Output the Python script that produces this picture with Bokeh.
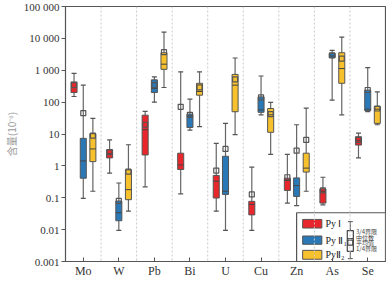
from bokeh.plotting import figure
from bokeh.models import FixedTicker, Span, ColumnDataSource, Range1d
from bokeh.core.properties import value
from bokeh.embed import file_html
from bokeh.resources import INLINE

categories = ["Mo", "W", "Pb", "Bi", "U", "Cu", "Zn", "As", "Se"]
series_names = ["Py Ⅰ", "Py Ⅱ₁", "PyⅡ₂"]
series_colors = ["#e8262b", "#2a78b6", "#f6c12c"]

# Py I
py1_low  = [150, 0.59, 0.22, 0.133, 0.038, 0.0095, 0.068, 0.060, 1.78]
py1_q1   = [200, 1.78, 2.2, 0.77, 0.098, 0.029, 0.17, 0.068, 4.5]
py1_med  = [288, 2.4, 13.6, 1.07, 0.33, 0.062, 0.35, 0.16, 6.2]
py1_q3   = [430, 3.2, 39, 2.5, 0.50, 0.077, 0.41, 0.19, 8.2]
py1_high = [800, 6.5, 51, 890, 5.1, 0.91, 2.3, 0.44, 10.7]
py1_mean = [340, 2.7, 19.5, 71, 0.71, 0.127, 0.44, 0.17, 6.5]

# Py II1
py21_low  = [0.095, 0.0095, 100, 13.3, 0.0095, 40, 0.057, 115, 50]
py21_q1   = [0.41, 0.019, 200, 16, 0.127, 48, 0.11, 2500, 54]
py21_med  = [1.43, 0.034, 270, 37, 0.16, 57, 0.24, 2800, 60]
py21_q3   = [7.3, 0.079, 500, 42, 2.0, 146, 0.42, 3400, 237]
py21_high = [340, 0.29, 620, 124, 21.6, 660, 19.5, 4200, 1210]
py21_mean = [45, 0.08, 340, 40, 3.4, 140, 3.0, 2940, 240]

# Py II2
py22_low  = [0.16, 0.038, 288, 17, 9.5, 2.3, 0.16, 40, 19.5]
py22_q1   = [1.36, 0.087, 1070, 165, 50, 11.3, 0.64, 390, 21.5]
py22_med  = [3.4, 0.18, 1550, 215, 340, 40, 0.85, 1130, 60]
py22_q3   = [10.2, 0.75, 3550, 390, 740, 63, 2.5, 3550, 73]
py22_high = [31, 4.6, 15800, 890, 2420, 98, 65, 11000, 210]
py22_mean = [8.9, 0.66, 3700, 290, 520, 42, 6.5, 2300, 63]

y_ticks = [0.001, 0.01, 0.1, 1, 10, 100, 1000, 10000, 100000]
y_tick_labels = ["0.001", "0.01", "0.1", "1", "10", "100", "1 000", "10 000", "100 000"]

series = [
    (py1_low, py1_q1, py1_med, py1_q3, py1_high, py1_mean),
    (py21_low, py21_q1, py21_med, py21_q3, py21_high, py21_mean),
    (py22_low, py22_q1, py22_med, py22_q3, py22_high, py22_mean),
]
offsets = [-0.26, 0.0, 0.27]
box_w = 0.17

p = figure(width=386, height=280, y_axis_type="log",
           x_range=Range1d(0, len(categories)), y_range=Range1d(0.001, 100000),
           output_backend="svg", toolbar_location=None,
           min_border_top=6, min_border_right=1, min_border_left=10, min_border_bottom=0)
p.background_fill_color = "white"
p.outline_line_color = "#555555"
p.outline_line_width = 1.2
p.xgrid.visible = False
p.ygrid.visible = False

for k in range(1, len(categories)):
    p.add_layout(Span(location=k, dimension="height", line_color="#c8c8c8",
                      line_dash="2 2", line_width=1))

serif = value("Liberation Serif")
for (lo, q1, med, q3, hi, mn), col, off in zip(series, series_colors, offsets):
    xs = [i + 0.5 + off for i in range(len(categories))]
    src = ColumnDataSource(dict(x=xs, lo=lo, q1=q1, med=med, q3=q3, hi=hi, mn=mn,
                                x0=[x - box_w / 2 for x in xs], x1=[x + box_w / 2 for x in xs]))
    p.segment(x0="x", y0="lo", x1="x", y1="hi", source=src, line_color="#666666", line_width=1.2)
    p.scatter(x="x", y="lo", source=src, marker="dash", size=5, line_color="#555555", line_width=1.2)
    p.scatter(x="x", y="hi", source=src, marker="dash", size=5, line_color="#555555", line_width=1.2)
    p.quad(left="x0", right="x1", bottom="q1", top="q3", source=src,
           fill_color=col, line_color="#555555", line_width=1)
    p.segment(x0="x0", y0="med", x1="x1", y1="med", source=src, line_color="#444444", line_width=1)
    p.scatter(x="x", y="mn", source=src, marker="square", size=5, fill_alpha=0,
              line_color="#555555", line_width=1.2)

# axes
p.xaxis.ticker = FixedTicker(ticks=[i + 0.5 for i in range(len(categories))])
p.xaxis.major_label_overrides = {i + 0.5: c for i, c in enumerate(categories)}
p.xaxis.major_tick_in = 4
p.xaxis.major_tick_out = 0
p.xaxis.minor_tick_line_color = None
p.xaxis.major_label_text_font = "Liberation Serif"
p.xaxis.major_label_text_font_size = "12px"
p.xaxis.major_label_text_color = "#333333"
p.xaxis.major_label_standoff = 2
p.xaxis.axis_line_color = "#555555"
p.xaxis.major_tick_line_color = "#555555"

p.yaxis.ticker = FixedTicker(ticks=y_ticks, minor_ticks=[])
p.yaxis.major_label_overrides = {t: s for t, s in zip(y_ticks, y_tick_labels)}
p.yaxis.major_tick_in = 0
p.yaxis.major_tick_out = 4
p.yaxis.minor_tick_line_color = None
p.yaxis.major_label_text_font = "Liberation Serif"
p.yaxis.major_label_text_font_size = "11px"
p.yaxis.major_label_text_color = "#333333"
p.yaxis.major_label_standoff = 2
p.yaxis.axis_line_color = "#555555"
p.yaxis.major_tick_line_color = "#555555"
p.yaxis.axis_label = "含量(10⁻⁶)"
p.yaxis.axis_label_text_font = "Noto Sans CJK SC"
p.yaxis.axis_label_text_font_size = "10px"
p.yaxis.axis_label_text_font_style = "normal"
p.yaxis.axis_label_text_color = "#999999"
p.yaxis.axis_label_standoff = 2

# legend (drawn in data space, after the boxes)
p.quad(left=[6.5], right=[len(categories)], bottom=[0.001], top=[10 ** -1.47],
       fill_color="white", line_color="#555555", line_width=1.2)
sw_top = [-1.68, -2.20, -2.65]
sw_bot = [-1.95, -2.46, -2.93]
p.quad(left=[6.67] * 3, right=[7.21] * 3, bottom=[10 ** v for v in sw_bot],
       top=[10 ** v for v in sw_top], fill_color=series_colors, line_color="#555555",
       line_width=1)
p.text(x=[7.31] * 3, y=[10 ** ((a + b) / 2) for a, b in zip(sw_top, sw_bot)], text=series_names,
       text_font=serif, text_font_size=value("10px"), text_baseline="middle",
       text_color="#222222")
ix = 8.01
p.segment(x0=[ix], y0=[10 ** -2.91], x1=[ix], y1=[10 ** -1.75], line_color="#555555",
          line_width=1)
p.scatter(x=[ix, ix], y=[10 ** -1.75, 10 ** -2.91], marker="dash", size=5,
          line_color="#555555")
p.quad(left=[ix - 0.085], right=[ix + 0.085], bottom=[10 ** -2.68], top=[10 ** -2.03],
       fill_color="white", line_color="#444444", line_width=1.2)
p.segment(x0=[ix - 0.085], y0=[10 ** -2.28], x1=[ix + 0.085], y1=[10 ** -2.28],
          line_color="#444444", line_width=1)
p.scatter(x=[ix], y=[10 ** -2.41], marker="square", size=5, fill_alpha=0,
          line_color="#444444", line_width=1.2)
p.text(x=[8.17] * 4, y=[10 ** v for v in [-2.07, -2.24, -2.41, -2.58]],
       text=["3/4界限", "中位数", "平均值", "1/4界限"],
       text_font=value("Noto Sans CJK SC"), text_font_size=value("6px"),
       text_baseline="middle", text_color="#444444")

open("out.html", "w").write(file_html(p, INLINE))
